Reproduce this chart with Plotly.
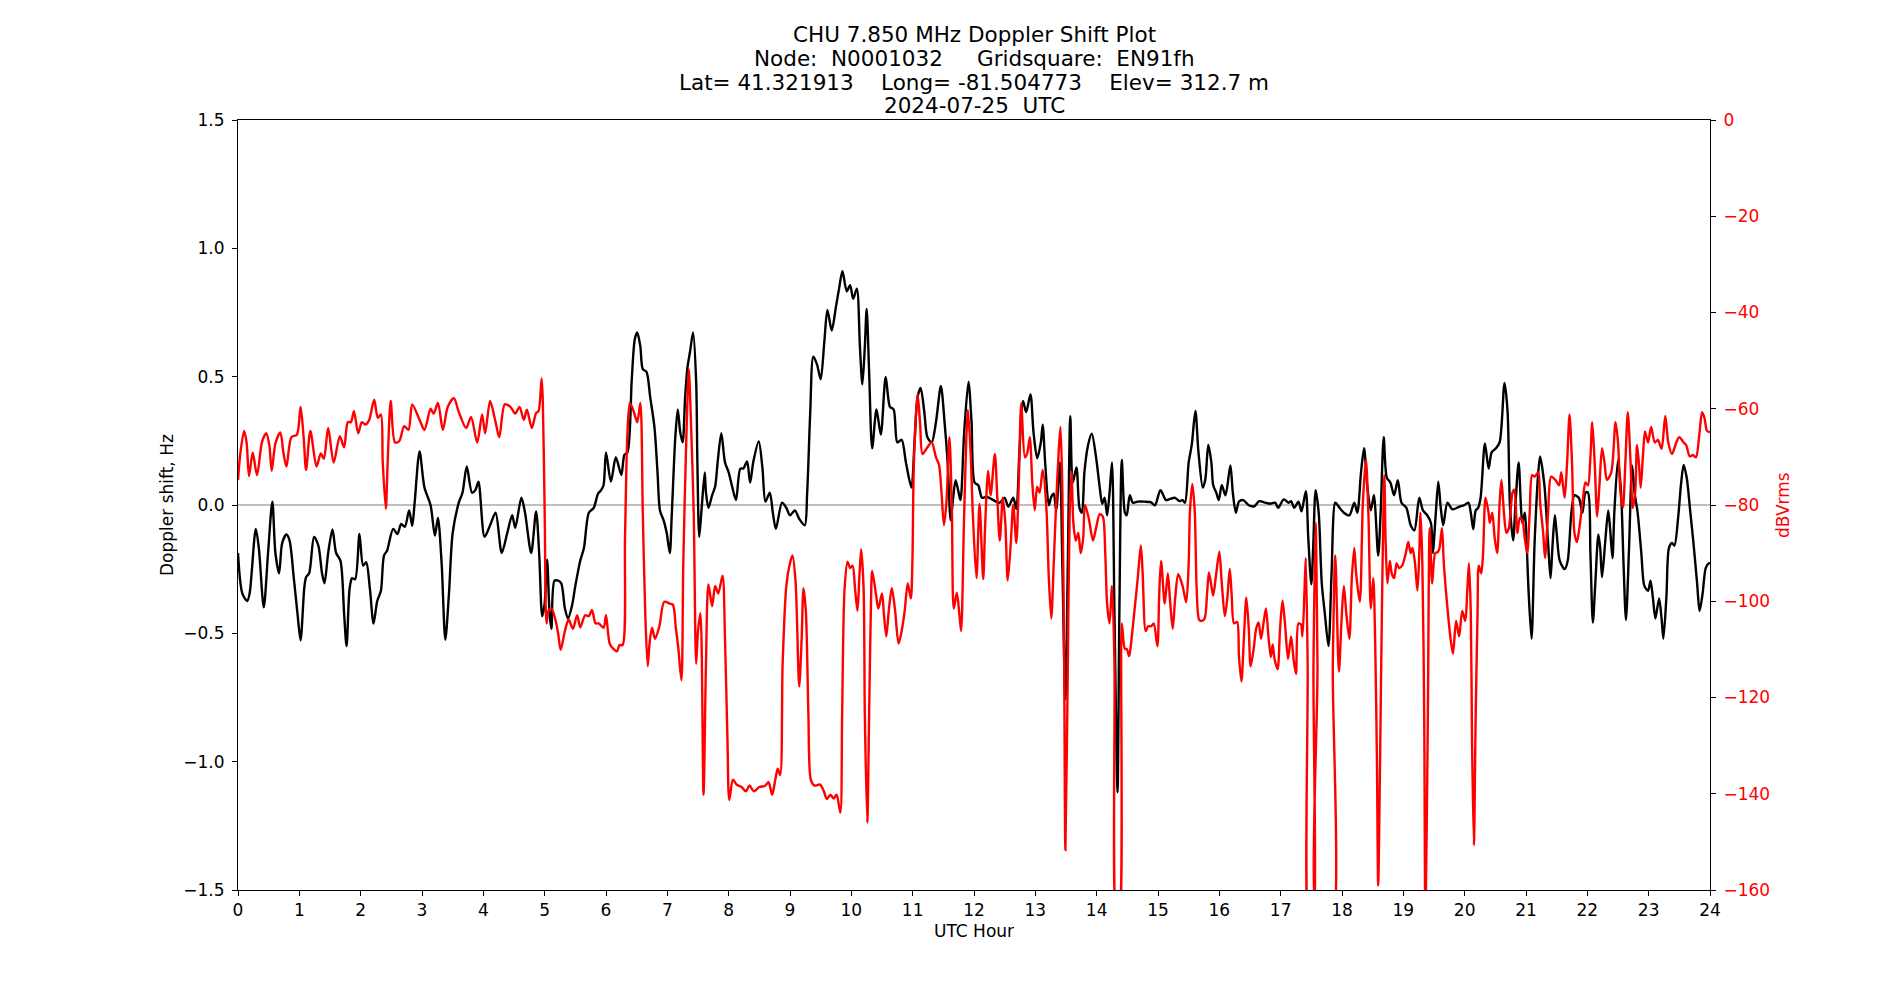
import plotly.graph_objects as go

# ---------------- Doppler shift (Hz), black trace ----------------
dop_h_a = [0, 0.07, 0.15, 0.19, 0.29, 0.34, 0.42, 0.49, 0.56, 0.61, 0.67, 0.72, 0.79, 0.84, 0.91, 0.97, 1.02, 1.08, 1.11, 1.16,
           1.24, 1.31, 1.37, 1.41, 1.47, 1.54, 1.60, 1.67, 1.73, 1.77, 1.82, 1.86, 1.91, 1.98, 2.04, 2.09, 2.15, 2.21, 2.27, 2.33,
           2.38, 2.43, 2.53, 2.60, 2.66, 2.72, 2.79, 2.84, 2.88]
dop_v_a = [-0.187, -0.344, -0.374, -0.344, -0.093, -0.168, -0.399, -0.187, 0.013, -0.187, -0.266, -0.148, -0.115, -0.138, -0.285, -0.423, -0.527, -0.325, -0.281, -0.266,
           -0.124, -0.158, -0.266, -0.305, -0.187, -0.095, -0.187, -0.217, -0.423, -0.550, -0.325, -0.285, -0.289, -0.113, -0.236, -0.223, -0.325, -0.462, -0.374, -0.334,
           -0.197, -0.178, -0.093, -0.113, -0.074, -0.085, -0.021, -0.081, 0.009]

dop_h_b = [2.96, 3.04, 3.14, 3.21, 3.26, 3.32, 3.38, 3.44, 3.50, 3.60, 3.66, 3.73, 3.815, 3.87, 3.92, 4.02, 4.11, 4.20, 4.30, 4.39,
           4.47, 4.52, 4.62, 4.68, 4.78, 4.86, 4.91, 4.96, 5.00, 5.04, 5.08, 5.11, 5.16, 5.22, 5.27, 5.33, 5.38, 5.445, 5.50, 5.58,
           5.64, 5.72, 5.80, 5.87, 5.92]
dop_v_b = [0.209, 0.068, -0.001, -0.119, -0.050, -0.227, -0.525, -0.344, -0.109, 0.009, 0.048, 0.150, 0.048, 0.058, 0.091, -0.124, -0.079, -0.030, -0.187, -0.109,
           -0.040, -0.089, 0.028, -0.030, -0.187, -0.025, -0.187, -0.433, -0.384, -0.213, -0.423, -0.482, -0.295, -0.295, -0.305, -0.403, -0.442, -0.393, -0.315, -0.217,
           -0.168, -0.030, -0.011, 0.044, 0.058]

dop_h_c = [5.96, 6.00, 6.08, 6.16, 6.25, 6.30, 6.35, 6.42, 6.47, 6.51, 6.56, 6.60, 6.66, 6.72, 6.79, 6.84, 6.88, 6.94, 6.99, 7.04,
           7.07, 7.13, 7.17, 7.21, 7.25, 7.29, 7.33, 7.37, 7.42, 7.47, 7.49, 7.52, 7.56, 7.61, 7.63, 7.67, 7.73, 7.78, 7.82, 7.88,
           7.94, 8.00, 8.06, 8.12, 8.19, 8.24, 8.30, 8.35, 8.40, 8.49, 8.55, 8.60, 8.67, 8.72, 8.77, 8.87, 8.94]
dop_v_c = [0.077, 0.205, 0.091, 0.186, 0.117, 0.195, 0.205, 0.490, 0.647, 0.672, 0.617, 0.529, 0.519, 0.421, 0.303, 0.127, -0.021, -0.060, -0.109, -0.187,
           -0.050, 0.264, 0.372, 0.284, 0.244, 0.421, 0.539, 0.597, 0.672, 0.480, 0.166, -0.124, -0.011, 0.127, 0.048, -0.011, 0.038, 0.072, 0.166, 0.280,
           0.166, 0.127, 0.068, 0.019, 0.142, 0.142, 0.170, 0.087, 0.166, 0.248, 0.146, 0.013, 0.048, -0.030, -0.093, 0.009, -0.011]

dop_h_d = [9.00, 9.08, 9.15, 9.24, 9.28, 9.33, 9.38, 9.44, 9.50, 9.56, 9.61, 9.68, 9.75, 9.80, 9.855, 9.925, 9.98, 10.03, 10.09, 10.14,
           10.18, 10.22, 10.25, 10.29, 10.34, 10.41, 10.48, 10.56, 10.63, 10.69, 10.75, 10.82, 10.89, 10.98, 11.03, 11.08, 11.13, 11.19, 11.24, 11.31,
           11.38, 11.46, 11.52, 11.57, 11.62, 11.66, 11.70, 11.75, 11.78, 11.84, 11.91, 11.96, 12.01]
dop_v_d = [-0.040, -0.021, -0.054, -0.079, 0.048, 0.362, 0.578, 0.548, 0.490, 0.637, 0.760, 0.680, 0.774, 0.843, 0.911, 0.833, 0.856, 0.803, 0.843, 0.617,
           0.470, 0.617, 0.764, 0.519, 0.221, 0.372, 0.274, 0.499, 0.382, 0.372, 0.244, 0.254, 0.166, 0.068, 0.244, 0.421, 0.456, 0.362, 0.264, 0.244,
           0.323, 0.464, 0.323, 0.166, -0.060, 0.028, 0.097, 0.048, 0.019, 0.284, 0.480, 0.323, 0.087]

dop_h_e = [12.07, 12.13, 12.20, 12.28, 12.36, 12.42, 12.50, 12.56, 12.64, 12.69, 12.74, 12.80, 12.85, 12.92, 12.97, 13.03, 13.09, 13.12, 13.16, 13.22,
           13.26, 13.30, 13.34, 13.40, 13.44, 13.49, 13.53, 13.57, 13.61, 13.67, 13.72, 13.76, 13.80, 13.86, 13.92, 13.99, 14.05, 14.09, 14.13, 14.17,
           14.21, 14.25, 14.29, 14.34, 14.37, 14.41, 14.46, 14.49, 14.54, 14.59, 14.67, 14.78, 14.88]
dop_v_e = [0.077, 0.028, 0.032, 0.024, 0.013, 0.009, 0.028, -0.007, 0.028, -0.015, 0.205, 0.405, 0.362, 0.431, 0.284, 0.182, 0.244, 0.313, 0.166, -0.001,
           0.032, 0.044, -0.021, 0.166, -0.227, -0.756, -0.227, 0.346, 0.087, 0.146, -0.011, -0.030, 0.127, 0.234, 0.278, 0.186, 0.068, 0.005, 0.028, -0.040,
           0.048, 0.166, -0.423, -1.119, -0.423, 0.176, -0.030, -0.040, 0.038, 0.009, 0.013, 0.013, 0.011]

dop_h_f = [14.95, 15.04, 15.13, 15.20, 15.28, 15.35, 15.40, 15.44, 15.50, 15.55, 15.61, 15.66, 15.73, 15.77, 15.82, 15.87, 15.90, 15.95, 15.99, 16.04,
           16.10, 16.18, 16.22, 16.27, 16.32, 16.39, 16.48, 16.57, 16.65, 16.75, 16.83, 16.91, 16.96, 17.05, 17.13, 17.17, 17.22, 17.29, 17.34, 17.41,
           17.45, 17.50, 17.53, 17.57, 17.62, 17.67, 17.72, 17.78, 17.83, 17.89, 17.93]
dop_v_f = [-0.001, 0.058, 0.019, 0.024, 0.028, 0.015, 0.019, 0.009, 0.166, 0.234, 0.366, 0.205, 0.068, 0.097, 0.234, 0.166, 0.077, 0.048, 0.019, 0.077,
           0.038, 0.154, 0.048, -0.030, 0.013, 0.019, -0.001, -0.005, 0.015, 0.009, 0.005, 0.009, -0.011, 0.022, 0.009, 0.015, -0.011, 0.013, -0.025, 0.054,
           -0.129, -0.309, -0.168, 0.058, -0.030, -0.305, -0.423, -0.550, -0.266, 0.009, -0.001]

dop_h_g = [17.96, 18.03, 18.12, 18.20, 18.25, 18.31, 18.36, 18.41, 18.47, 18.52, 18.59, 18.63, 18.68, 18.73, 18.79, 18.85, 18.91, 18.97, 19.05, 19.12,
           19.18, 19.26, 19.32, 19.39, 19.45, 19.48, 19.53, 19.57, 19.61, 19.65, 19.72, 19.80, 19.91, 19.99, 20.06, 20.10, 20.14, 20.18, 20.22, 20.26,
           20.33, 20.39, 20.44, 20.51, 20.57, 20.65, 20.70, 20.74, 20.79, 20.83, 20.88]
dop_v_g = [-0.011, -0.030, -0.040, 0.009, -0.030, 0.127, 0.221, 0.077, -0.021, 0.038, -0.197, -0.030, 0.264, 0.107, 0.087, 0.038, 0.097, 0.009, -0.011, -0.079,
           -0.099, 0.028, -0.021, -0.040, -0.070, -0.187, -0.030, 0.091, -0.011, -0.079, 0.009, -0.017, -0.007, -0.001, 0.009, -0.030, -0.095, -0.021, -0.011, 0.028,
           0.240, 0.142, 0.205, 0.221, 0.244, 0.476, 0.362, -0.011, -0.138, 0.009, 0.166]

dop_h_h = [20.94, 20.98, 21.00, 21.04, 21.09, 21.14, 21.20, 21.23, 21.30, 21.36, 21.40, 21.43, 21.47, 21.50, 21.55, 21.63, 21.68, 21.74, 21.79, 21.86,
           21.92, 21.97, 22.01, 22.05, 22.09, 22.13, 22.18, 22.21, 22.24, 22.29, 22.34, 22.37, 22.41, 22.44, 22.50, 22.55, 22.59, 22.63, 22.68, 22.73,
           22.77, 22.82, 22.88, 22.93, 22.99, 23.03, 23.07, 23.11, 23.17, 23.21, 23.24, 23.29, 23.33, 23.38, 23.42, 23.48, 23.53, 23.57, 23.62, 23.68,
           23.73, 23.79, 23.83, 23.88, 23.93, 23.98, 24.0]
dop_v_h = [-0.070, -0.030, -0.089, -0.325, -0.521, -0.148, 0.127, 0.189, 0.077, -0.148, -0.285, -0.168, -0.040, -0.109, -0.217, -0.250, -0.217, -0.030, 0.038, 0.028,
           -0.030, 0.048, 0.048, -0.187, -0.458, -0.305, -0.115, -0.168, -0.281, -0.148, -0.021, -0.089, -0.207, -0.030, 0.176, 0.048, -0.227, -0.448, -0.168, 0.154,
           0.048, -0.030, -0.187, -0.315, -0.334, -0.295, -0.364, -0.442, -0.364, -0.442, -0.521, -0.354, -0.168, -0.148, -0.158, -0.050, 0.087, 0.156, 0.107, -0.030,
           -0.148, -0.305, -0.413, -0.344, -0.246, -0.227, -0.227]

# ---------------- Signal level (dBVrms), red trace ----------------
pow_h_a = [0, 0.04, 0.10, 0.14, 0.18, 0.24, 0.31, 0.39, 0.46, 0.51, 0.55, 0.61, 0.69, 0.74, 0.79, 0.87, 0.96, 1.02, 1.07, 1.11,
           1.18, 1.28, 1.35, 1.40, 1.47, 1.56, 1.66, 1.73, 1.79, 1.84, 1.89, 1.96, 2.02, 2.08, 2.14, 2.22, 2.28, 2.33, 2.36, 2.41,
           2.44, 2.49, 2.56, 2.63, 2.71, 2.78, 2.84]
pow_v_a = [-74.8, -69.1, -64.6, -67.0, -74.0, -69.1, -73.8, -67.0, -65.1, -67.5, -72.9, -67.2, -64.9, -69.1, -72.0, -65.9, -65.4, -59.6, -65.9, -72.7,
           -64.6, -72.0, -69.3, -70.4, -64.0, -71.2, -65.7, -68.0, -62.8, -62.8, -60.5, -65.1, -62.8, -63.3, -62.3, -58.1, -61.9, -61.2, -71.2, -80.8,
           -71.2, -58.4, -67.0, -66.7, -63.6, -64.4, -59.1]

pow_h_b = [2.96, 3.04, 3.14, 3.19, 3.26, 3.34, 3.42, 3.52, 3.60, 3.72, 3.80, 3.90, 3.98, 4.03, 4.11, 4.20, 4.26, 4.35, 4.44, 4.52,
           4.59, 4.66, 4.71, 4.79, 4.86, 4.90, 4.95, 4.97, 5.00, 5.03, 5.06, 5.11, 5.17, 5.22, 5.26, 5.33, 5.39, 5.46, 5.53, 5.58,
           5.66, 5.72, 5.77, 5.83, 5.88]
pow_v_b = [-62.3, -64.4, -60.0, -61.0, -58.8, -64.4, -59.6, -57.8, -60.7, -64.0, -61.7, -67.0, -61.2, -65.1, -58.4, -62.8, -65.9, -59.1, -59.6, -61.0,
           -59.6, -62.3, -60.2, -64.0, -60.9, -60.5, -53.7, -58.6, -81.6, -104.6, -102.0, -101.5, -103.6, -106.7, -110.1, -106.2, -103.8, -105.7, -102.9, -105.4,
           -102.9, -103.1, -101.8, -104.6, -104.6]

pow_h_c = [5.96, 6.00, 6.06, 6.12, 6.18, 6.22, 6.27, 6.31, 6.35, 6.39, 6.45, 6.51, 6.56, 6.60, 6.64, 6.68, 6.71, 6.75, 6.80, 6.87,
           6.95, 7.04, 7.09, 7.14, 7.18, 7.23, 7.26, 7.31, 7.35, 7.38, 7.43, 7.47, 7.50, 7.54, 7.59, 7.63, 7.67, 7.73, 7.78, 7.83,
           7.90, 7.94, 7.98, 8.01, 8.07, 8.13, 8.21, 8.28, 8.34, 8.41, 8.50, 8.59, 8.65, 8.71, 8.76, 8.80, 8.84, 8.88, 8.94]
pow_v_c = [-105.5, -102.9, -108.8, -109.9, -110.4, -109.1, -109.1, -86.9, -64.9, -58.8, -60.5, -62.8, -58.8, -81.6, -102.5, -113.5, -108.8, -105.5, -107.8, -105.2,
           -100.1, -100.5, -100.7, -105.7, -109.9, -116.4, -92.1, -65.9, -51.8, -60.7, -81.6, -113.0, -106.2, -102.5, -140.2, -113.0, -96.5, -101.0, -96.8, -98.4,
           -94.7, -107.8, -128.7, -141.3, -137.1, -138.1, -138.6, -139.5, -138.3, -139.5, -138.6, -138.4, -137.6, -140.2, -137.1, -134.8, -136.1, -113.0, -96.8]

pow_h_d = [8.99, 9.04, 9.09, 9.15, 9.19, 9.22, 9.26, 9.30, 9.34, 9.40, 9.49, 9.55, 9.60, 9.66, 9.71, 9.76, 9.82, 9.85, 9.89, 9.94,
           9.98, 10.02, 10.06, 10.10, 10.13, 10.16, 10.20, 10.22, 10.26, 10.29, 10.32, 10.34, 10.40, 10.44, 10.50, 10.53, 10.57, 10.61, 10.66, 10.71,
           10.77, 10.82, 10.87, 10.92, 10.97, 10.995, 11.02, 11.08, 11.12, 11.16, 11.23, 11.31, 11.38, 11.43, 11.47, 11.51, 11.55, 11.60, 11.64, 11.67,
           11.72, 11.76, 11.79, 11.84]
pow_v_d = [-92.6, -90.5, -95.7, -117.7, -107.8, -97.3, -102.5, -123.5, -137.1, -138.3, -138.1, -139.4, -141.1, -140.2, -141.0, -140.2, -143.9, -123.5, -97.3, -91.8,
           -93.1, -92.6, -97.3, -102.0, -95.2, -89.2, -97.3, -123.5, -146.0, -123.5, -100.5, -93.7, -98.4, -101.5, -98.4, -102.5, -107.3, -102.0, -97.3, -101.5,
           -108.8, -106.2, -102.0, -96.3, -99.4, -92.1, -71.2, -57.0, -62.8, -69.4, -68.2, -67.0, -70.1, -71.7, -77.4, -84.2, -79.5, -65.9, -81.6, -101.5,
           -98.2, -102.5, -106.2, -81.6]

pow_h_e = [11.90, 11.945, 11.98, 12.04, 12.09, 12.15, 12.18, 12.23, 12.27, 12.34, 12.38, 12.42, 12.47, 12.51, 12.55, 12.60, 12.64, 12.69, 12.73, 12.77,
           12.83, 12.87, 12.91, 12.95, 12.99, 13.03, 13.07, 13.12, 13.18, 13.22, 13.26, 13.30, 13.34, 13.38, 13.41, 13.44, 13.47, 13.49, 13.53, 13.56,
           13.59, 13.62, 13.66, 13.70, 13.74, 13.78, 13.81, 13.87, 13.94, 13.99, 14.05, 14.10, 14.14, 14.17, 14.21, 14.25, 14.29, 14.33, 14.36, 14.41,
           14.46, 14.49, 14.53, 14.56, 14.62, 14.67, 14.72, 14.75, 14.80, 14.84, 14.89, 14.93]
pow_v_e = [-60.2, -69.1, -81.6, -95.2, -79.8, -95.4, -84.8, -72.9, -78.0, -69.4, -78.5, -87.4, -78.5, -83.7, -95.7, -87.9, -80.0, -87.9, -75.3, -58.9,
           -70.1, -69.1, -65.9, -75.3, -81.1, -76.2, -77.4, -72.7, -80.6, -95.2, -103.6, -92.1, -79.5, -69.1, -63.8, -76.4, -113.0, -151.7, -113.0, -81.6,
           -73.2, -83.7, -87.4, -85.8, -90.0, -86.9, -80.0, -82.7, -87.4, -84.8, -81.9, -82.4, -90.0, -100.5, -104.6, -96.8, -113.0, -168.0, -168.0, -104.6,
           -109.9, -109.9, -111.4, -108.8, -101.5, -95.2, -88.4, -94.2, -106.2, -105.2, -105.2, -104.6]

pow_h_f = [14.99, 15.02, 15.05, 15.11, 15.16, 15.20, 15.24, 15.28, 15.33, 15.40, 15.46, 15.50, 15.52, 15.56, 15.60, 15.63, 15.67, 15.71, 15.76, 15.80,
           15.83, 15.87, 15.90, 15.95, 16.00, 16.04, 16.09, 16.13, 16.17, 16.20, 16.24, 16.29, 16.32, 16.36, 16.40, 16.44, 16.48, 16.51, 16.56, 16.60,
           16.64, 16.68, 16.72, 16.76, 16.80, 16.84, 16.87, 16.90, 16.95, 16.99, 17.03, 17.07, 17.12, 17.17, 17.21, 17.25, 17.29, 17.33, 17.355, 17.39,
           17.41, 17.44, 17.47, 17.51, 17.535, 17.57, 17.60, 17.635, 17.81, 17.85, 17.89]
pow_v_f = [-109.3, -98.4, -91.6, -100.5, -94.2, -100.5, -105.7, -99.4, -94.4, -96.8, -100.2, -92.1, -81.6, -75.6, -81.6, -97.3, -103.8, -104.1, -103.6, -98.4,
           -94.0, -96.8, -98.8, -94.2, -89.7, -96.3, -103.1, -99.4, -93.3, -98.4, -104.6, -104.3, -111.4, -116.7, -107.8, -99.2, -105.7, -113.5, -109.9, -105.7,
           -104.4, -107.8, -104.6, -101.5, -107.3, -111.6, -109.0, -112.0, -114.1, -105.7, -99.9, -104.6, -112.0, -107.3, -112.0, -115.1, -104.6, -104.8, -107.3, -97.3,
           -91.0, -113.0, -170.0, -170.0, -113.0, -83.7, -113.0, -170.0, -170.0, -113.0, -90.5]

pow_h_g = [17.95, 17.99, 18.03, 18.07, 18.12, 18.16, 18.20, 18.23, 18.29, 18.34, 18.39, 18.43, 18.47, 18.51, 18.54, 18.57, 18.59, 18.62, 18.65, 18.69,
           18.71, 18.74, 18.78, 18.81, 18.85, 18.89, 18.93, 18.98, 19.04, 19.08, 19.12, 19.15, 19.19, 19.23, 19.26, 19.28, 19.31, 19.34, 19.36, 19.40,
           19.43, 19.47, 19.52, 19.56, 19.59, 19.63, 19.66, 19.72, 19.77, 19.81, 19.86, 19.91, 19.96, 20.01, 20.04, 20.07, 20.10, 20.12, 20.15, 20.18,
           20.21, 20.23, 20.27, 20.30, 20.34, 20.39, 20.41, 20.45, 20.49, 20.53, 20.57, 20.60, 20.64, 20.68, 20.72, 20.78, 20.81, 20.86, 20.90]
pow_v_g = [-114.6, -104.6, -96.8, -102.5, -107.8, -95.2, -88.9, -94.2, -100.1, -79.5, -70.6, -81.6, -101.5, -95.2, -107.8, -133.9, -159.1, -133.9, -102.5, -73.8,
           -86.9, -96.3, -91.6, -94.2, -95.2, -92.1, -93.1, -92.6, -90.0, -87.7, -90.0, -88.9, -92.1, -97.8, -90.0, -81.6, -92.1, -123.5, -168.0, -123.5,
           -84.8, -96.3, -90.0, -89.8, -88.9, -84.8, -92.1, -101.5, -107.8, -110.9, -104.1, -107.3, -102.0, -104.1, -98.4, -92.1, -102.5, -128.7, -150.7, -123.5,
           -102.5, -92.6, -94.2, -90.0, -78.5, -81.6, -83.7, -81.6, -86.9, -90.0, -79.5, -74.8, -81.6, -85.8, -84.8, -77.4, -76.8, -85.8, -82.7]

pow_h_h = [20.94, 20.98, 21.02, 21.06, 21.10, 21.14, 21.20, 21.23, 21.28, 21.31, 21.36, 21.41, 21.48, 21.54, 21.575, 21.63, 21.67, 21.71, 21.75, 21.79,
           21.83, 21.87, 21.93, 21.97, 22.01, 22.05, 22.08, 22.12, 22.16, 22.20, 22.24, 22.28, 22.32, 22.39, 22.46, 22.50, 22.54, 22.58, 22.62, 22.66,
           22.705, 22.74, 22.78, 22.81, 22.84, 22.87, 22.91, 22.94, 22.99, 23.04, 23.10, 23.15, 23.21, 23.27, 23.32, 23.38, 23.45, 23.50, 23.57, 23.61,
           23.67, 23.72, 23.77, 23.83, 23.87, 23.91, 23.95, 24.0]
pow_v_h = [-83.2, -86.9, -90.0, -81.6, -73.8, -74.1, -73.2, -79.5, -85.8, -91.0, -81.6, -74.1, -74.8, -75.9, -73.2, -78.5, -71.2, -61.2, -71.2, -85.8,
           -87.7, -84.8, -78.5, -75.3, -75.9, -70.1, -62.8, -71.2, -82.4, -75.3, -68.2, -71.2, -74.8, -73.2, -62.8, -67.0, -77.4, -80.6, -71.2, -60.7,
           -71.2, -80.6, -77.4, -67.5, -71.2, -76.4, -69.1, -64.7, -67.0, -63.8, -67.0, -66.5, -68.3, -61.5, -67.0, -69.4, -67.0, -65.9, -67.0, -67.5,
           -69.9, -69.6, -70.1, -64.9, -60.7, -61.9, -64.6, -64.9]

hour_ticks = list(range(0, 25))
doppler_ticks = [-1.5, -1.0, -0.5, 0.0, 0.5, 1.0, 1.5]
power_ticks = [0, -20, -40, -60, -80, -100, -120, -140, -160]

title_lines = [
    "CHU 7.850 MHz Doppler Shift Plot",
    "Node:  N0001032     Gridsquare:  EN91fh",
    "Lat= 41.321913    Long= -81.504773    Elev= 312.7 m",
    "2024-07-25  UTC",
]

dop_h_segs = [dop_h_a, dop_h_b, dop_h_c, dop_h_d, dop_h_e, dop_h_f, dop_h_g, dop_h_h]
dop_v_segs = [dop_v_a, dop_v_b, dop_v_c, dop_v_d, dop_v_e, dop_v_f, dop_v_g, dop_v_h]
pow_h_segs = [pow_h_a, pow_h_b, pow_h_c, pow_h_d, pow_h_e, pow_h_f, pow_h_g, pow_h_h]
pow_v_segs = [pow_v_a, pow_v_b, pow_v_c, pow_v_d, pow_v_e, pow_v_f, pow_v_g, pow_v_h]

doppler_hours, doppler_hz, power_hours, power_dbv = [], [], [], []
for i, (h, v) in enumerate(zip(dop_h_segs, dop_v_segs)):
    assert len(h) == len(v), ("doppler", i, len(h), len(v))
    doppler_hours += h
    doppler_hz += v
for i, (h, v) in enumerate(zip(pow_h_segs, pow_v_segs)):
    assert len(h) == len(v), ("power", i, len(h), len(v))
    power_hours += h
    power_dbv += v

FONT = "DejaVu Sans"
W, H = 1900, 1000
L, R, T, B = 238, 190, 120, 110
PW, PH = W - L - R, H - T - B


def py(pix):  # pixel row -> paper y
    return (H - B - pix) / PH


def px(pix):  # pixel column -> paper x
    return (pix - L) / PW


fig = go.Figure()
fig.add_trace(go.Scatter(
    x=doppler_hours, y=doppler_hz, mode="lines", yaxis="y",
    line=dict(color="black", width=2.4, shape="spline", smoothing=0.8),
    showlegend=False, hoverinfo="skip"))
fig.add_trace(go.Scatter(
    x=power_hours, y=power_dbv, mode="lines", yaxis="y2",
    line=dict(color="red", width=2.4, shape="spline", smoothing=0.8),
    showlegend=False, hoverinfo="skip"))

fig.add_shape(type="line", xref="paper", x0=0, x1=1, yref="y", y0=0, y1=0,
              line=dict(color="#808080", width=1.2), layer="below")

annotations = []
for i, (txt, ypix) in enumerate(zip(title_lines, [35, 58.5, 82, 105.5])):
    annotations.append(dict(text=txt, xref="paper", yref="paper", x=0.5, y=py(ypix),
                            xanchor="center", yanchor="middle", showarrow=False,
                            font=dict(family=FONT, size=21.5, color="black")))
annotations.append(dict(text="UTC Hour", xref="paper", yref="paper", x=0.5, y=py(931),
                        xanchor="center", yanchor="middle", showarrow=False,
                        font=dict(family=FONT, size=17, color="black")))
annotations.append(dict(text="Doppler shift, Hz", xref="paper", yref="paper", x=px(167), y=0.5,
                        xanchor="center", yanchor="middle", showarrow=False, textangle=-90,
                        font=dict(family=FONT, size=17, color="black")))
annotations.append(dict(text="dBVrms", xref="paper", yref="paper", x=px(1783), y=0.5,
                        xanchor="center", yanchor="middle", showarrow=False, textangle=-90,
                        font=dict(family=FONT, size=17, color="red")))

axis_common = dict(showgrid=False, zeroline=False, ticks="outside", ticklen=5, tickwidth=1.1,
                   tickcolor="black", showline=True, linecolor="black", linewidth=1.1)

fig.update_layout(
    width=W, height=H,
    margin=dict(l=L, r=R, t=T, b=B, pad=0),
    paper_bgcolor="white", plot_bgcolor="white",
    font=dict(family=FONT, size=17, color="black"),
    annotations=annotations,
    xaxis=dict(range=[0, 24], tickmode="array", tickvals=hour_ticks,
               ticktext=[str(t) for t in hour_ticks], mirror=True,
               tickfont=dict(family=FONT, size=17, color="black"), **axis_common),
    yaxis=dict(range=[-1.5, 1.5], tickmode="array", tickvals=doppler_ticks,
               ticktext=[("\u2212" if t < 0 else "") + f"{abs(t):.1f}" for t in doppler_ticks],
               tickfont=dict(family=FONT, size=17, color="black"), ticklabelstandoff=4,
               **axis_common),
    yaxis2=dict(range=[-160, 0], overlaying="y", side="right", tickmode="array",
                tickvals=power_ticks,
                ticktext=[("\u2212" if t < 0 else "") + f"{abs(t)}" for t in power_ticks],
                tickfont=dict(family=FONT, size=17, color="red"), ticklabelstandoff=4,
                **axis_common),
)

fig.write_html("out.html")
